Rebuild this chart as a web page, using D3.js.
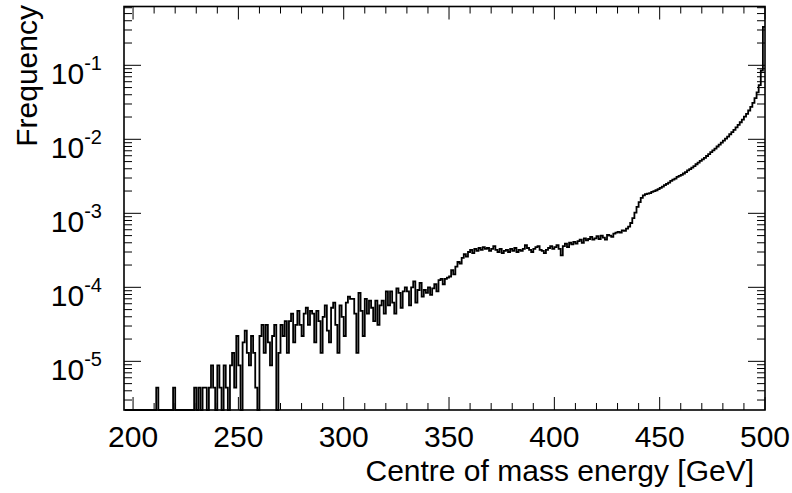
<!doctype html>
<html>
<head>
<meta charset="utf-8">
<script src="https://d3js.org/d3.v7.min.js"></script>
<style>
  body { margin: 0; background: #fff; }
  text { font-family: "Liberation Sans", Arial, sans-serif; fill: #000; }
</style>
</head>
<body>
<script>
// histogram: 1 GeV bins, low edges 196 .. 499
var binStart = 196;
var binWidth = 1;
var freq = [
  0, 0, 0, 0,
  // 200-209
  0, 0, 0, 0, 0, 0, 0, 0, 0, 0,
  // 210-219
  0, 4.4e-6, 0, 0, 0, 0, 0, 0, 0, 4.4e-6,
  // 220-229
  0, 0, 0, 0, 0, 0, 0, 0, 0, 4.4e-6,
  // 230-239
  0, 4.4e-6, 0, 4.4e-6, 4.4e-6, 0, 4.4e-6, 8.8e-6, 4.4e-6, 0,
  // 240-249
  8.8e-6, 4.4e-6, 0, 8.8e-6, 4.4e-6, 0, 8.8e-6, 1.3e-5, 4.4e-6, 2.2e-5,
  // 250-259
  8.8e-6, 0, 1.8e-5, 2.6e-5, 1.3e-5, 8.8e-6, 2.2e-5, 1.3e-5, 4.4e-6, 0,
  // 260-269
  2.2e-5, 3.1e-5, 1.3e-5, 3.1e-5, 1.8e-5, 8.8e-6, 2.2e-5, 3.1e-5, 0, 1.3e-5,
  // 270-279
  3.1e-5, 2.2e-5, 3.5e-5, 1.3e-5, 3.5e-5, 4.4e-5, 1.8e-5, 3.1e-5, 4.8e-5, 3.1e-5,
  // 280-289
  2.2e-5, 4.4e-5, 5.3e-5, 3.1e-5, 4.8e-5, 4.4e-5, 1.8e-5, 4.8e-5, 3.5e-5, 1.3e-5,
  // 290-299
  4.0e-5, 5.7e-5, 2.6e-5, 1.8e-5, 5.3e-5, 6.2e-5, 3.1e-5, 1.3e-5, 5.7e-5, 4.0e-5,
  // 300-309
  2.2e-5, 6.2e-5, 7.5e-5, 7.0e-5, 7.0e-5, 4.4e-5, 1.3e-5, 8.4e-5, 4.8e-5, 2.2e-5,
  // 310-319
  7.0e-5, 4.4e-5, 6.6e-5, 5.3e-5, 3.5e-5, 6.6e-5, 3.1e-5, 5.7e-5, 6.6e-5, 4.4e-5,
  // 320-329
  8.8e-5, 5.7e-5, 8.8e-5, 6.2e-5, 4.4e-5, 9.7e-5, 8.4e-5, 5.3e-5, 8.8e-5, 1.0e-4,
  // 330-339
  8.8e-5, 5.7e-5, 1.0e-4, 1.2e-4, 6.2e-5, 9.2e-5, 1.15e-4, 7.5e-5, 9.2e-5, 8.4e-5,
  // 340-349
  1.0e-4, 7.9e-5, 9.7e-5, 1.1e-4, 8.8e-5, 1.25e-4, 1.3e-4, 1.1e-4, 1.3e-4, 1.35e-4,
  // 350-359
  1.4e-4, 1.7e-4, 1.5e-4, 1.9e-4, 2.2e-4, 2.1e-4, 2.5e-4, 2.8e-4, 2.6e-4, 3.0e-4,
  // 360-369
  3.2e-4, 2.9e-4, 3.3e-4, 3.1e-4, 3.4e-4, 3.2e-4, 3.5e-4, 3.3e-4, 3.4e-4, 3.1e-4,
  // 370-379
  3.3e-4, 3.6e-4, 3.2e-4, 3.0e-4, 3.3e-4, 2.9e-4, 3.1e-4, 3.2e-4, 3.0e-4, 3.3e-4,
  // 380-389
  3.1e-4, 3.4e-4, 3.0e-4, 3.2e-4, 3.1e-4, 3.3e-4, 3.7e-4, 3.4e-4, 3.2e-4, 3.0e-4,
  // 390-399
  3.3e-4, 3.5e-4, 3.6e-4, 3.2e-4, 3.1e-4, 2.9e-4, 3.2e-4, 3.4e-4, 3.6e-4, 3.3e-4,
  // 400-409
  3.5e-4, 3.7e-4, 3.3e-4, 2.7e-4, 3.6e-4, 3.9e-4, 3.5e-4, 4.0e-4, 3.8e-4, 4.1e-4,
  // 410-419
  3.9e-4, 4.2e-4, 4.4e-4, 4.0e-4, 4.6e-4, 4.3e-4, 4.5e-4, 4.8e-4, 4.4e-4, 4.6e-4,
  // 420-429
  4.9e-4, 4.5e-4, 5.0e-4, 4.7e-4, 4.4e-4, 5.1e-4, 5.0e-4, 4.8e-4, 5.3e-4, 5.5e-4,
  // 430-439
  5.6e-4, 5.5e-4, 5.9e-4, 5.8e-4, 6.2e-4, 6.6e-4, 7.4e-4, 8.6e-4, 1.02e-3, 1.22e-3,
  // 440-449
  1.42e-3, 1.62e-3, 1.75e-3, 1.82e-3, 1.85e-3, 1.88e-3, 1.95e-3, 2.0e-3, 2.05e-3, 2.12e-3,
  // 450-459
  2.2e-3, 2.3e-3, 2.4e-3, 2.5e-3, 2.6e-3, 2.75e-3, 2.85e-3, 2.95e-3, 3.1e-3, 3.2e-3,
  // 460-469
  3.3e-3, 3.45e-3, 3.6e-3, 3.8e-3, 3.95e-3, 4.15e-3, 4.35e-3, 4.6e-3, 4.85e-3, 5.1e-3,
  // 470-479
  5.35e-3, 5.6e-3, 5.95e-3, 6.3e-3, 6.7e-3, 7.1e-3, 7.5e-3, 8.0e-3, 8.5e-3, 9.0e-3,
  // 480-489
  9.6e-3, 1.02e-2, 1.09e-2, 1.17e-2, 1.25e-2, 1.34e-2, 1.45e-2, 1.57e-2, 1.7e-2, 1.85e-2,
  // 490-499
  2.02e-2, 2.2e-2, 2.45e-2, 2.75e-2, 3.1e-2, 3.6e-2, 4.3e-2, 5.4e-2, 8.5e-2, 3.3e-1
];

var xMajor = [200, 250, 300, 350, 400, 450, 500];
var yMajor = [1e-5, 1e-4, 1e-3, 1e-2, 1e-1];
var yExp = ["-5", "-4", "-3", "-2", "-1"];
var xTitle = "Centre of mass energy [GeV]";
var yTitle = "Frequency";

var W = 792, H = 493;
var fL = 124, fR = 765, fT = 6.5, fB = 410;

var svg = d3.select("body").append("svg")
    .attr("width", W)
    .attr("height", H);

var x = d3.scaleLinear().domain([195.7, 500]).range([fL, fR]);
var y = d3.scaleLog().domain([2.2e-6, 0.623]).range([fB, fT]).clamp(true);

// histogram outline
var pts = [];
freq.forEach(function(v, i) {
    var lo = binStart + i * binWidth, hi = lo + binWidth;
    var yy = v > 0 ? y(v) : fB;
    pts.push([x(lo), yy]);
    pts.push([x(hi), yy]);
});
svg.append("path")
    .attr("d", d3.line()(pts))
    .attr("fill", "none")
    .attr("stroke", "#000")
    .attr("stroke-width", 1.8)
    .attr("stroke-linejoin", "miter");

// ticks (inside the frame, on all four sides)
var ticksG = svg.append("g").attr("stroke", "#000").attr("stroke-width", 1);
var xMinor = d3.range(200, 501, 10);
xMinor.forEach(function(t) {
    var major = t % 50 === 0;
    var len = major ? 13 : 7;
    ticksG.append("line").attr("x1", x(t)).attr("x2", x(t)).attr("y1", fB).attr("y2", fB - len);
    ticksG.append("line").attr("x1", x(t)).attr("x2", x(t)).attr("y1", fT).attr("y2", fT + len);
});
var yTicks = [];
for (var e = -6; e <= 0; e++) {
    for (var m = 1; m <= 9; m++) {
        var v = m * Math.pow(10, e);
        if (v >= 2.2e-6 && v <= 0.623) yTicks.push({v: v, major: m === 1});
    }
}
yTicks.forEach(function(t) {
    var len = t.major ? 17 : 8;
    var yy = y(t.v);
    ticksG.append("line").attr("x1", fL).attr("x2", fL + len).attr("y1", yy).attr("y2", yy);
    ticksG.append("line").attr("x1", fR).attr("x2", fR - len).attr("y1", yy).attr("y2", yy);
});

// frame
svg.append("rect")
    .attr("x", fL).attr("y", fT)
    .attr("width", fR - fL).attr("height", fB - fT)
    .attr("fill", "none").attr("stroke", "#000").attr("stroke-width", 1.6);

// x tick labels
svg.selectAll(".xl").data(xMajor).enter().append("text")
    .attr("class", "xl")
    .attr("x", function(d) { return x(d); })
    .attr("y", 447)
    .attr("text-anchor", "middle")
    .attr("font-size", 30)
    .text(function(d) { return d; });

// y tick labels 10^n
yMajor.forEach(function(v, i) {
    var t = svg.append("text")
        .attr("x", 102)
        .attr("y", y(v) + 18.5)
        .attr("text-anchor", "end")
        .attr("font-size", 30);
    t.append("tspan").text("10");
    t.append("tspan").attr("font-size", 20).attr("dy", -14).text(yExp[i]);
});

// axis titles
svg.append("text")
    .attr("x", 754).attr("y", 481)
    .attr("text-anchor", "end")
    .attr("font-size", 30)
    .text(xTitle);

svg.append("text")
    .attr("transform", "translate(37,5) rotate(-90)")
    .attr("text-anchor", "end")
    .attr("font-size", 30)
    .text(yTitle);
</script>
</body>
</html>
